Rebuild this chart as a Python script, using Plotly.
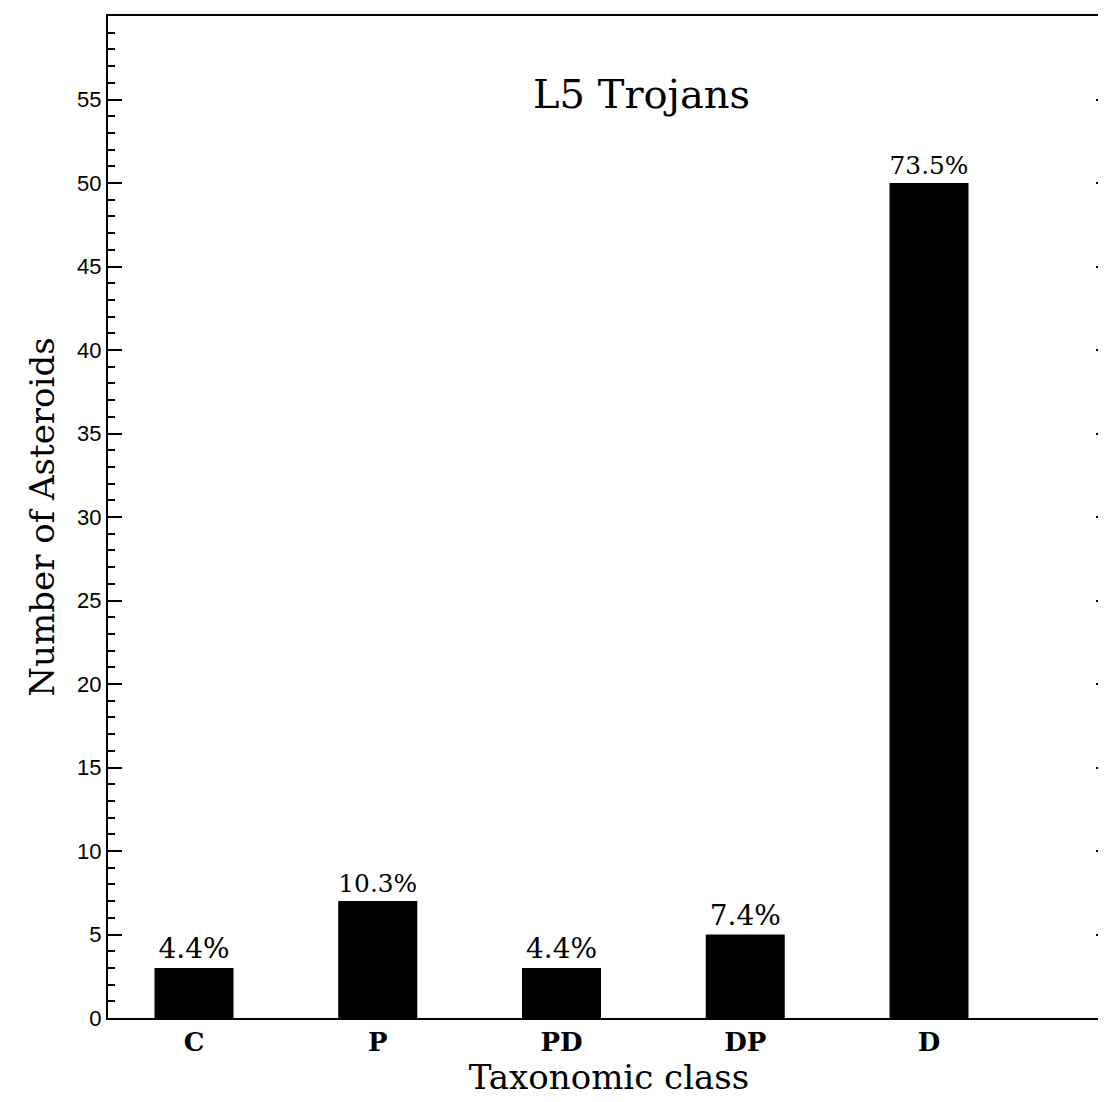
import plotly.graph_objects as go

categories = ["C", "P", "PD", "DP", "D"]
counts = [3, 7, 3, 5, 50]
percents = ["4.4%", "10.3%", "4.4%", "7.4%", "73.5%"]
yticks = list(range(0, 61, 5))

xpos = list(range(len(categories)))
fig = go.Figure(go.Bar(
    x=xpos, y=counts, width=0.43, marker=dict(color="black", line=dict(width=0)),
    text=percents, textposition="outside", cliponaxis=False,
    textfont=dict(family="DejaVu Serif", size=28, color="black")))

fig.add_annotation(x=0.532, xref="paper", y=55.3, yref="y", text="L5 Trojans",
                   showarrow=False, font=dict(family="DejaVu Serif", size=40, color="black"))

fig.update_layout(
    width=1106, height=1102, paper_bgcolor="white", plot_bgcolor="white",
    margin=dict(l=100, r=4, t=8, b=92, autoexpand=False), showlegend=False,
    xaxis=dict(range=[-0.468, 4.985], tickvals=xpos, automargin=False,
               ticktext=["<b>%s</b>" % c for c in categories],
               tickfont=dict(family="DejaVu Serif", size=26, color="black"),
               showgrid=False, zeroline=False, showline=True, linecolor="black",
               linewidth=2, mirror=True, ticks="",
               title=dict(text="Taxonomic class", standoff=4,
                          font=dict(family="DejaVu Serif", size=34, color="black"))),
    yaxis=dict(range=[0, 60], tickvals=yticks, showgrid=False, zeroline=False,
               automargin=False,
               showline=True, linecolor="black", linewidth=2, mirror="allticks",
               ticks="inside", ticklen=14, tickwidth=2, tickcolor="black",
               minor=dict(dtick=1, ticks="inside", ticklen=7, tickwidth=1.5, tickcolor="black"),
               tickfont=dict(family="Liberation Sans", size=22, color="black"),
               title=dict(text="Number of Asteroids", standoff=12,
                          font=dict(family="DejaVu Serif", size=34, color="black"))),
)
fig.write_html("out.html")
